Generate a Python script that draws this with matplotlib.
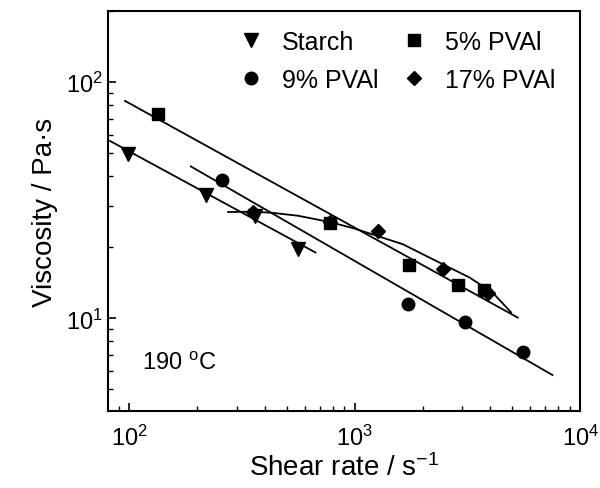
import matplotlib
matplotlib.use("Agg")
import matplotlib.pyplot as plt
import numpy as np

plt.rcParams["font.family"] = ["Liberation Sans", "DejaVu Sans"]
plt.rcParams["mathtext.fontset"] = "custom"
plt.rcParams["mathtext.rm"] = "Liberation Sans"
plt.rcParams["mathtext.default"] = "regular"

# measured points
starch_x = [98.7, 219, 361, 561]
starch_y = [49.5, 33.2, 27.1, 19.6]
pva5_x = [135, 780, 1750, 2864, 3760]
pva5_y = [73.1, 25.4, 16.9, 13.8, 13.2]
pva9_x = [259, 1722, 3070, 5559]
pva9_y = [38.5, 11.5, 9.65, 7.2]
pva17_x = [355, 774, 1268, 2460, 3900]
pva17_y = [28.1, 25.6, 23.4, 16.1, 12.8]

# fitted lines (end points)
starch_fit_x = [82.4, 671]
starch_fit_y = [56.4, 19.0]
pva5_fit_x = [96, 5286]
pva5_fit_y = [83.4, 10.07]
pva9_fit_x = [188, 7536]
pva9_fit_y = [44.0, 5.75]
# 17% PVAl fit curve, traced
pva17_fit_x = [275, 350, 430, 561, 774, 1000, 1636, 2299, 3227, 4093, 4936]
pva17_fit_y = [28.2, 28.3, 28.0, 27.2, 25.6, 24.0, 20.6, 17.5, 14.9, 12.85, 10.6]

fig = plt.figure(figsize=(6, 4.89), dpi=100)
ax = fig.add_axes([0.18, 0.157, 0.787, 0.818])

lw = 1.3
ax.plot(starch_fit_x, starch_fit_y, c="k", lw=lw)
ax.plot(pva5_fit_x, pva5_fit_y, c="k", lw=lw)
ax.plot(pva9_fit_x, pva9_fit_y, c="k", lw=lw)
ax.plot(pva17_fit_x, pva17_fit_y, c="k", lw=lw)

ms = 9.5
h1, = ax.plot(starch_x, starch_y, "v", c="k", ms=ms, ls="none", label="Starch")
h2, = ax.plot(pva5_x, pva5_y, "s", c="k", ms=ms - 1.5, ls="none", label="5% PVAl")
h3, = ax.plot(pva9_x, pva9_y, "o", c="k", ms=ms - 0.5, ls="none", label="9% PVAl")
h4, = ax.plot(pva17_x, pva17_y, "D", c="k", ms=ms - 2, ls="none", label="17% PVAl")

ax.set_xscale("log")
ax.set_yscale("log")
ax.set_xlim(80.7, 10000)
ax.set_ylim(4.04, 200)

ax.tick_params(which="both", direction="in", top=False, right=False, labelsize=17)
ax.tick_params(which="major", length=6, width=1.2)
ax.tick_params(which="minor", length=3.5, width=1)
ax.tick_params(axis="x", pad=10)
for s in ax.spines.values():
    s.set_linewidth(1.5)

ax.set_xlabel("Shear rate / s$^{-1}$", fontsize=20, labelpad=2)
ax.set_ylabel("Viscosity / Pa\u00b7s", fontsize=20, labelpad=6)

ax.text(0.072, 0.122, "190 $^{o}$C", transform=ax.transAxes, fontsize=17,
        va="center", ha="left")

ax.legend(handles=[h1, h3, h2, h4], ncol=2, frameon=False, fontsize=18,
          loc="upper left", bbox_to_anchor=(238 / 600, 1 - 31 / 489),
          bbox_transform=fig.transFigure, borderpad=0, borderaxespad=0,
          handlelength=1.0, handletextpad=0.74, columnspacing=0.95,
          labelspacing=0.55)

fig.savefig("out.png", dpi=100)
